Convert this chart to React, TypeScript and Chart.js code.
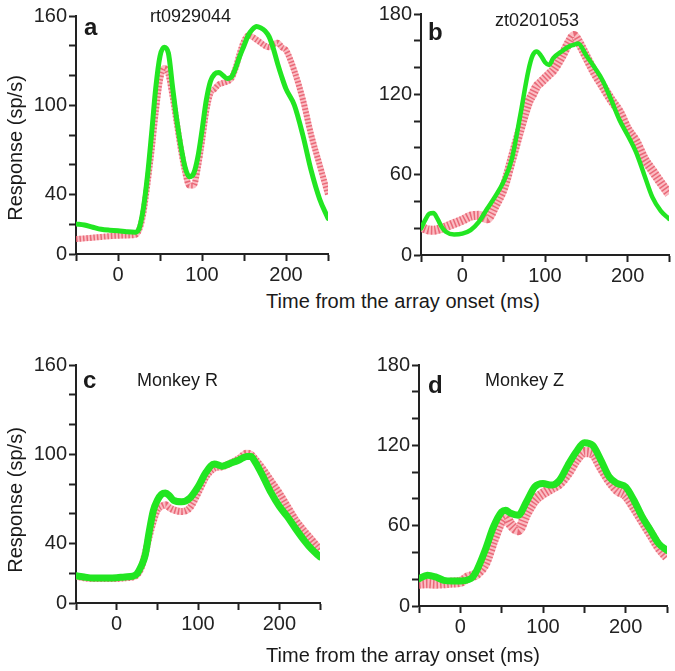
import React, { useEffect, useRef } from 'react';
import { Chart, registerables } from 'chart.js';

Chart.register(...registerables);

const FONT = '"Liberation Sans", Arial, Helvetica, sans-serif';

// ---- Panel a (rt0929044) ----
const TIME_A = [-50, -40, -30, -20, -10, 0, 10, 20, 25, 30, 35, 40, 45, 50, 55, 60, 65, 70, 75, 80, 85, 90, 95, 100, 105, 110, 115, 120, 125, 130, 135, 140, 145, 150, 155, 160, 165, 170, 175, 180, 185, 190, 195, 200, 210, 220, 230, 240, 250];
const GREEN_A = [20.2, 19.5, 18, 16.6, 16, 15.7, 15, 14.6, 17, 30, 52, 81, 112, 133, 139, 135, 112, 90, 72, 58, 52, 54, 65, 83, 103, 116, 121, 122, 120, 118, 119, 125, 133, 140, 147, 151, 153, 152, 150, 146, 138, 128, 119, 111, 100, 80, 56, 37, 24];
const RED_A = [10, 10.5, 11, 11.5, 12, 12.3, 12.5, 12.8, 16, 27, 47, 70, 96, 117, 125, 121, 106, 88, 70, 55, 46, 46, 58, 76, 96, 108, 111, 114, 115, 116, 118, 125, 135, 143, 147, 146, 144, 142, 140, 139, 141, 142, 139, 137, 123, 104, 80, 60, 40];

// ---- Panel b (zt0201053) ----
const TIME_B = [-50, -45, -40, -35, -30, -25, -20, -10, 0, 10, 20, 30, 40, 50, 60, 70, 80, 85, 90, 95, 100, 105, 110, 120, 130, 135, 140, 150, 160, 170, 180, 190, 200, 210, 220, 230, 240, 250];
const GREEN_B = [19.8, 26, 30.8, 31.3, 27, 21, 17.4, 15.4, 16, 18.6, 24.7, 34.5, 44, 55, 72, 104, 138, 149, 152, 149, 144, 142, 147, 152, 156, 157, 158, 149, 140, 130, 116, 101, 89.5, 77, 60, 43, 33, 27];
const RED_B = [21, 19.5, 18.6, 18.5, 19, 20, 21, 23.5, 26, 29, 29.6, 27, 37, 50, 72, 94, 114, 120, 126, 129, 132, 135, 138, 148, 160, 164, 160, 148, 136, 126, 116, 107, 94, 85, 72, 63, 54, 45.5];

// ---- Panel c (Monkey R) ----
const TIME_C = [-50, -40, -30, -20, -10, 0, 10, 20, 25, 30, 35, 40, 45, 50, 55, 60, 65, 70, 80, 90, 100, 110, 120, 130, 140, 150, 160, 165, 170, 180, 190, 200, 210, 220, 230, 240, 250];
const GREEN_C = [18.3, 17.5, 16.8, 16.8, 16.8, 17, 17.5, 18, 19.7, 24.6, 32, 48, 62, 69, 73, 74, 72, 69, 68, 70.5, 78, 88, 93.5, 92, 94, 96, 98.5, 98.5, 95, 85, 74, 65, 58, 50, 42.5, 36, 31];
const RED_C = [18, 17, 16.5, 16.5, 16.5, 16.5, 17, 17.5, 19, 23.5, 33, 45, 55, 62.6, 65, 66, 64, 62.6, 61.5, 64, 74, 85, 90.6, 91.7, 94, 97, 100.7, 100, 97, 90, 82, 74, 65, 56, 49, 42.5, 36];

// ---- Panel d (Monkey Z) ----
const TIME_D = [-50, -40, -30, -20, -10, 0, 10, 15, 20, 30, 40, 50, 55, 60, 70, 80, 90, 100, 110, 120, 130, 140, 150, 160, 170, 180, 190, 200, 210, 220, 230, 240, 250];
const GREEN_D = [20.4, 23, 21.7, 19.2, 18.7, 18.7, 19.7, 21.7, 26.7, 41.6, 59, 70.3, 71.6, 69.6, 67.8, 77.8, 89, 91.5, 90.3, 94, 105, 115, 122, 120, 109, 96.5, 91.5, 89, 79, 66.6, 56.6, 46.6, 41.6];
const RED_D = [16.7, 17, 16.7, 17, 17.5, 18, 21.7, 22.5, 24, 31.7, 49, 64, 66.6, 61.6, 56.6, 69, 79, 84, 87.8, 91.5, 99, 109, 115, 114, 104, 94, 86.5, 82.8, 74, 64, 54, 44, 36.6];

// ---- Tick labels ----
const X_TICK_LABELS = [0, 100, 200];
const Y_TICK_LABELS_160 = [0, 40, 100, 160];
const Y_TICK_LABELS_180 = [0, 60, 120, 180];

const X_TITLE = 'Time from the array onset (ms)';
const Y_TITLE = 'Response (sp/s)';

type PanelCfg = {
  left: number; top: number; w: number; h: number;
  yw: number; xh: number; pt: number; pr: number; pb: number;
  ymax: number; yLabels: number[];
  time: number[]; green: number[]; red: number[];
  gw: number; bw: number;
  letter: string; label: string;
  letterDx: number; letterDy: number; labelDx: number; labelDy: number;
};

const PANELS: PanelCfg[] = [
  { left: 0, top: 0, w: 338, h: 285, yw: 76, xh: 31, pt: 16, pr: 10, pb: 0, ymax: 160, yLabels: Y_TICK_LABELS_160,
    time: TIME_A, green: GREEN_A, red: RED_A, gw: 5, bw: 6,
    letter: 'a', label: 'rt0929044', letterDx: 8, letterDy: 19, labelDx: 74, labelDy: 6 },
  { left: 338, top: 0, w: 337, h: 285, yw: 83, xh: 30, pt: 10, pr: 6, pb: 0, ymax: 180, yLabels: Y_TICK_LABELS_180,
    time: TIME_B, green: GREEN_B, red: RED_B, gw: 4.5, bw: 9,
    letter: 'b', label: 'zt0201053', letterDx: 7, letterDy: 26, labelDx: 74, labelDy: 12 },
  { left: 0, top: 338, w: 338, h: 333, yw: 76, xh: 30, pt: 27, pr: 18, pb: 38, ymax: 160, yLabels: Y_TICK_LABELS_160,
    time: TIME_C, green: GREEN_C, red: RED_C, gw: 7, bw: 7,
    letter: 'c', label: 'Monkey R', letterDx: 7, letterDy: 23, labelDx: 61, labelDy: 21 },
  { left: 338, top: 338, w: 337, h: 333, yw: 81, xh: 30, pt: 27, pr: 8, pb: 35, ymax: 180, yLabels: Y_TICK_LABELS_180,
    time: TIME_D, green: GREEN_D, red: RED_D, gw: 7, bw: 10,
    letter: 'd', label: 'Monkey Z', letterDx: 9, letterDy: 28, labelDx: 66, labelDy: 21 },
];

function Panel({ cfg }: { cfg: PanelCfg }) {
  const ref = useRef<HTMLCanvasElement>(null);
  useEffect(() => {
    const pts = (arr: number[]) => cfg.time.map((t, i) => ({ x: t, y: arr[i] }));
    const textPlugin = {
      id: 'panelText',
      afterDraw(chart: any) {
        const { ctx, chartArea } = chart;
        ctx.save();
        ctx.fillStyle = '#1a1a1a';
        ctx.textBaseline = 'alphabetic';
        ctx.textAlign = 'left';
        ctx.font = `bold 24px ${FONT}`;
        ctx.fillText(cfg.letter, chartArea.left + cfg.letterDx, chartArea.top + cfg.letterDy);
        ctx.font = `18px ${FONT}`;
        ctx.fillText(cfg.label, chartArea.left + cfg.labelDx, chartArea.top + cfg.labelDy);
        ctx.restore();
      },
    };
    const axisCommon = {
      grid: { drawOnChartArea: false, drawTicks: true, tickLength: 7, tickWidth: 2, tickColor: '#222' },
      border: { display: true, color: '#222', width: 2 },
    };
    const chart = new Chart(ref.current as HTMLCanvasElement, {
      type: 'line',
      data: {
        datasets: [
          { label: 'green', data: pts(cfg.green), borderColor: '#22e622', borderWidth: cfg.gw, pointRadius: 0,
            cubicInterpolationMode: 'monotone', fill: false, order: 0, borderCapStyle: 'round', borderJoinStyle: 'round' },
          { label: 'red hatch', data: pts(cfg.red), borderColor: 'rgba(220,50,70,0.6)', borderWidth: cfg.bw, pointRadius: 0,
            cubicInterpolationMode: 'monotone', fill: false, order: 1, borderDash: [1.5, 2] },
          { label: 'red band', data: pts(cfg.red), borderColor: 'rgba(250,165,175,0.75)', borderWidth: cfg.bw, pointRadius: 0,
            cubicInterpolationMode: 'monotone', fill: false, order: 2 },
        ],
      },
      options: {
        animation: false,
        responsive: false,
        layout: { padding: { left: 0, top: cfg.pt, right: cfg.pr, bottom: cfg.pb } },
        plugins: { legend: { display: false }, tooltip: { enabled: false } },
        scales: {
          x: {
            type: 'linear', min: -50, max: 250,
            afterFit: (s: any) => { s.height = cfg.xh; },
            ticks: {
              stepSize: 50, autoSkip: false, maxRotation: 0, padding: 2, color: '#222',
              font: { size: 20, family: FONT },
              callback: (v: any) => (X_TICK_LABELS.includes(Number(v)) ? String(v) : ''),
            },
            ...axisCommon,
          },
          y: {
            type: 'linear', min: 0, max: cfg.ymax,
            afterFit: (s: any) => { s.width = cfg.yw; },
            ticks: {
              stepSize: 20, autoSkip: false, padding: 2, color: '#222',
              font: { size: 20, family: FONT },
              callback: (v: any) => (cfg.yLabels.includes(Number(v)) ? String(v) : ''),
            },
            ...axisCommon,
          },
        },
      } as any,
      plugins: [textPlugin],
    } as any);
    return () => chart.destroy();
  }, []);
  return (
    <canvas
      ref={ref}
      width={cfg.w}
      height={cfg.h}
      style={{ position: 'absolute', left: cfg.left, top: cfg.top, width: cfg.w, height: cfg.h }}
    />
  );
}

const textStyle: React.CSSProperties = {
  position: 'absolute',
  fontFamily: FONT,
  fontSize: 20,
  lineHeight: '20px',
  color: '#1a1a1a',
  whiteSpace: 'nowrap',
};

export default function App() {
  return (
    <div style={{ position: 'fixed', left: 0, top: 0, width: 675, height: 671, background: '#fff', overflow: 'hidden' }}>
      {PANELS.map((p) => (
        <Panel key={p.letter} cfg={p} />
      ))}
      <div style={{ ...textStyle, left: 15, top: 148, transform: 'translate(-50%, -50%) rotate(-90deg)' }}>{Y_TITLE}</div>
      <div style={{ ...textStyle, left: 15, top: 500, transform: 'translate(-50%, -50%) rotate(-90deg)' }}>{Y_TITLE}</div>
      <div style={{ ...textStyle, left: 403, top: 301, transform: 'translate(-50%, -50%)' }}>{X_TITLE}</div>
      <div style={{ ...textStyle, left: 403, top: 655, transform: 'translate(-50%, -50%)' }}>{X_TITLE}</div>
    </div>
  );
}
